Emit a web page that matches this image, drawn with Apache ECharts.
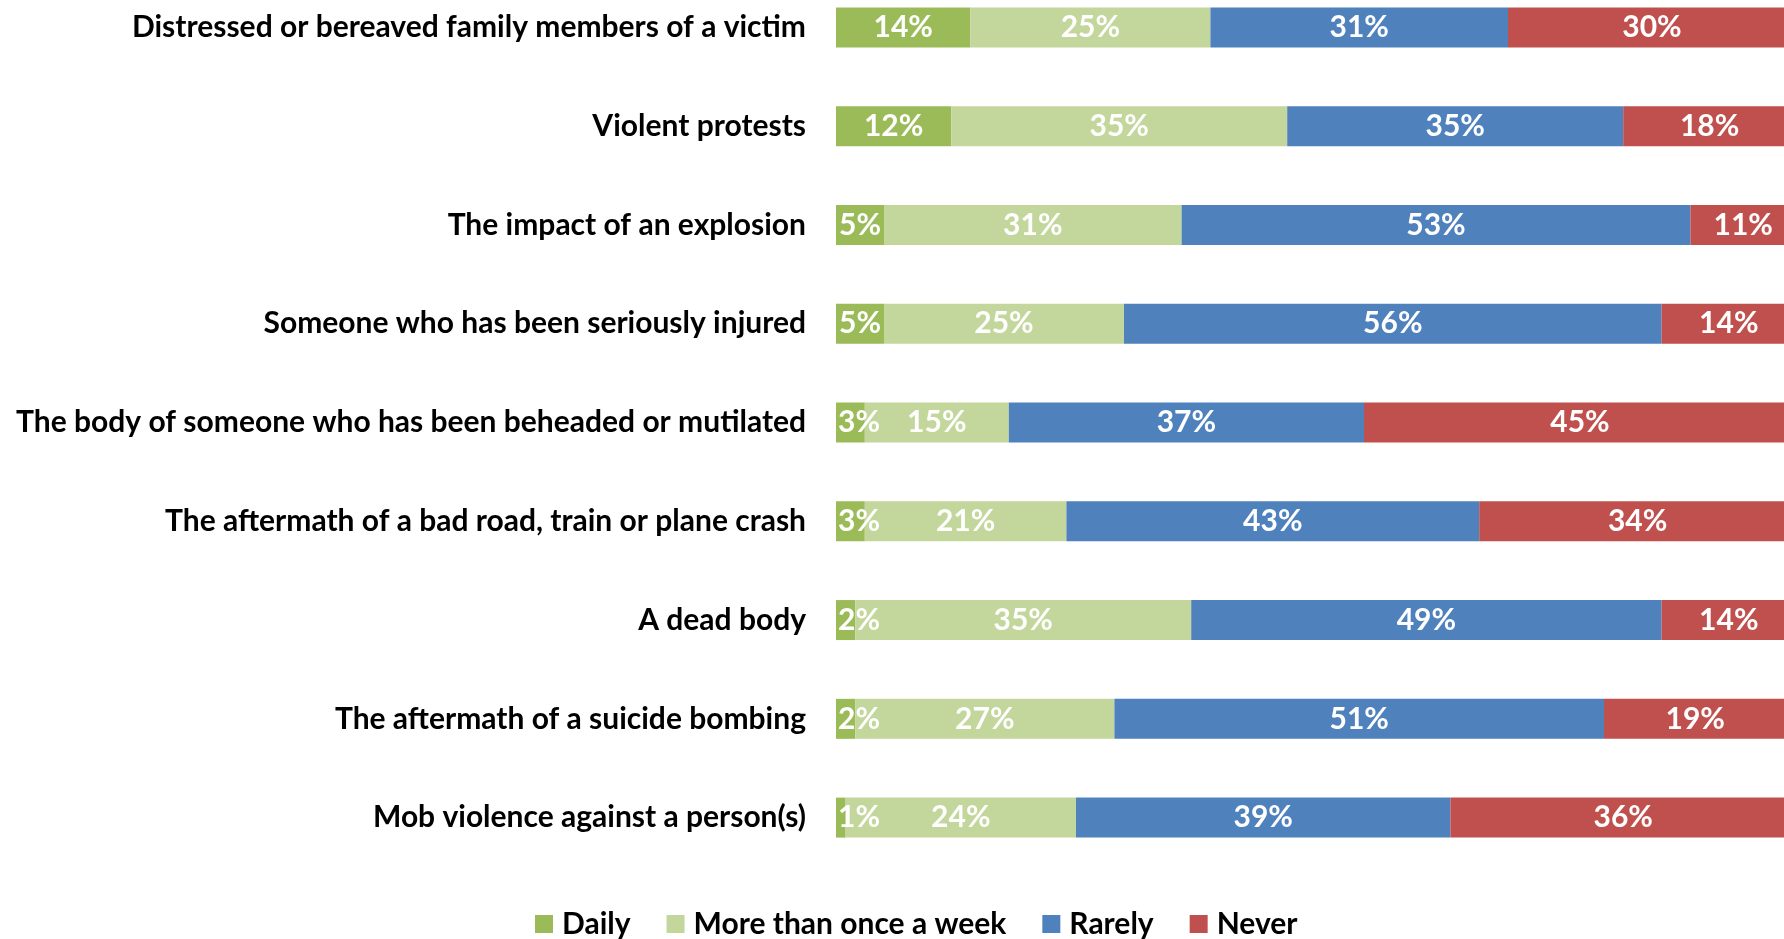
<!DOCTYPE html>
<html>
<head>
<meta charset="utf-8">
<script src="https://cdn.jsdelivr.net/npm/echarts@6/dist/echarts.min.js"></script>
<style>
html,body{margin:0;padding:0;background:#fff;}
#chart{width:1784px;height:939px;}
</style>
</head>
<body>
<div id="chart"></div>
<script>
const categories = [
  'Distressed or bereaved family members of a victim',
  'Violent protests',
  'The impact of an explosion',
  'Someone who has been seriously injured',
  'The body of someone who has been beheaded or mutilated',
  'The aftermath of a bad road, train or plane crash',
  'A dead body',
  'The aftermath of a suicide bombing',
  'Mob violence against a person(s)'
];
const seriesNames = ['Daily', 'More than once a week', 'Rarely', 'Never'];
const daily  = [14, 12, 5, 5, 3, 3, 2, 2, 1];
const weekly = [25, 35, 31, 25, 15, 21, 35, 27, 24];
const rarely = [31, 35, 53, 56, 37, 43, 49, 51, 39];
const never  = [30, 18, 11, 14, 45, 34, 14, 19, 36];
const colors = ['#9BBB59', '#C3D69B', '#4F81BD', '#C0504D'];

const FONT = 'Lato, "Open Sans", sans-serif';
const chart = echarts.init(document.getElementById('chart'), null, {renderer: 'canvas'});

function mkSeries(name, values, color, isFirst) {
  return {
    name: name,
    type: 'bar',
    stack: 'total',
    barWidth: 40,
    itemStyle: {color: color},
    emphasis: {disabled: true},
    data: values.map(v => {
      const d = {value: v};
      if (isFirst && v < 5) {
        d.label = {position: 'insideLeft', distance: 2};
      }
      return d;
    }),
    label: {
      show: true,
      position: 'inside',
      formatter: p => p.value + '%',
      color: '#fff',
      fontFamily: FONT,
      fontWeight: 'bold',
      fontSize: 30
    }
  };
}

chart.setOption({
  animation: false,
  backgroundColor: '#fff',
  grid: {left: 836, top: -22, width: 960, height: 889, outerBoundsMode: 'none', containLabel: false},
  xAxis: {type: 'value', min: 0, max: 100, show: false},
  yAxis: {
    type: 'category',
    data: categories,
    inverse: true,
    axisLine: {show: false},
    axisTick: {show: false},
    splitLine: {show: false},
    axisLabel: {
      margin: 30,
      color: '#000',
      fontFamily: FONT,
      fontWeight: 'bold',
      fontSize: 30
    }
  },
  legend: {
    data: seriesNames,
    left: 535,
    top: 909,
    padding: 0,
    itemWidth: 18,
    itemHeight: 18,
    itemGap: 36,
    icon: 'rect',
    selectedMode: false,
    textStyle: {color: '#000', fontFamily: FONT, fontWeight: 'bold', fontSize: 30, padding: [0, 0, 0, 4]}
  },
  series: [
    mkSeries(seriesNames[0], daily, colors[0], true),
    mkSeries(seriesNames[1], weekly, colors[1], false),
    mkSeries(seriesNames[2], rarely, colors[2], false),
    mkSeries(seriesNames[3], never, colors[3], false)
  ]
});
</script>
</body>
</html>
